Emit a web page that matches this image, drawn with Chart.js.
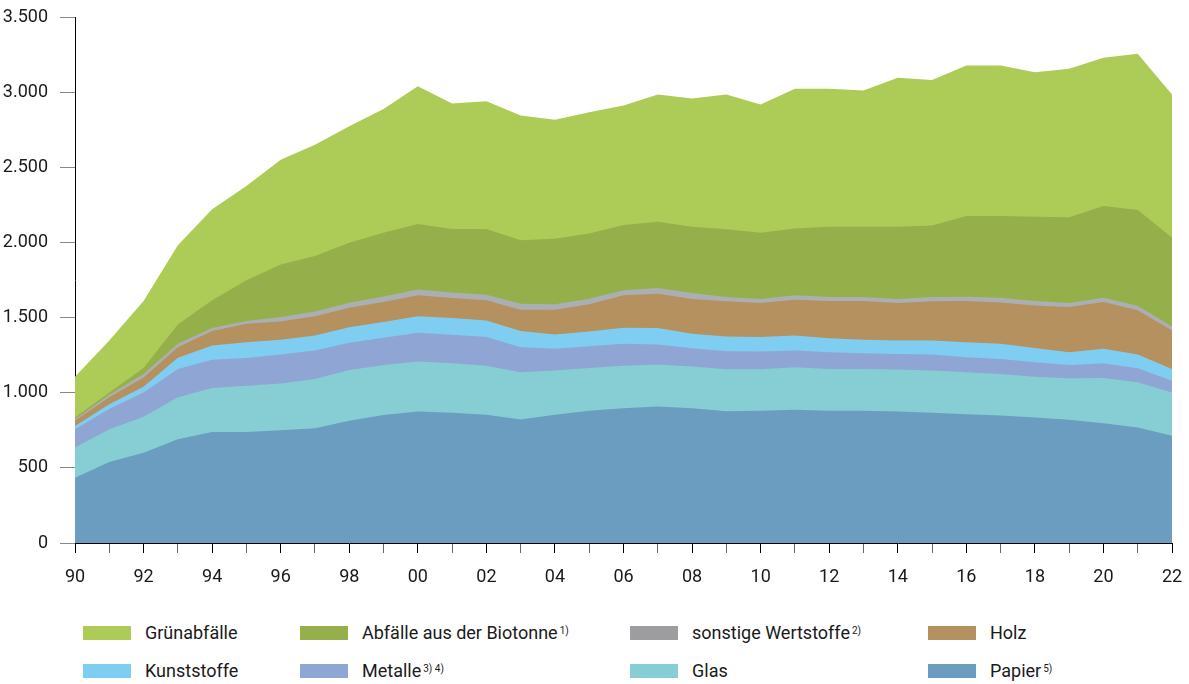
<!DOCTYPE html>
<html lang="de">
<head>
<meta charset="utf-8">
<title>Getrennt erfasste Wertstoffe</title>
<script src="https://cdn.jsdelivr.net/npm/chart.js@4.4.1/dist/chart.umd.min.js"></script>
<style>
  html, body { margin: 0; padding: 0; background: #fff; }
  #wrap { position: relative; width: 1189px; height: 684px; font-family: Roboto, 'Liberation Sans', sans-serif; color: #1a1a1a; }
  #chart { position: absolute; left: 0; top: 0; }
  .leg { position: absolute; display: flex; align-items: center; font-size: 18px; white-space: nowrap; }
  .leg .sw { width: 48px; height: 14px; margin-right: 14px; }
  .leg sup { font-size: 10px; margin-left: 2px; position: relative; top: -2px; }
</style>
</head>
<body>
<div id="wrap">
  <canvas id="chart" width="1189" height="600"></canvas>
</div>
<script>
// Jahre 1990 - 2022
const years = ['90','91','92','93','94','95','96','97','98','99',
               '00','01','02','03','04','05','06','07','08','09',
               '10','11','12','13','14','15','16','17','18','19',
               '20','21','22'];

// Werte in 1.000 t
const papier = [434,539,601,690,739,739,750,764,813,851,875,866,853,822,853,880,897,909,897,877,880,886,880,880,875,866,857,849,835,820,797,768,713];
const glas = [201,218,239,279,292,308,312,327,338,334,332,330,327,314,294,285,283,278,277,279,276,283,278,278,279,281,279,276,272,276,301,301,289];
const metalle = [122,134,162,189,189,184,192,190,181,180,192,189,190,167,145,145,145,134,122,120,118,112,111,105,104,107,100,100,96,89,98,93,78];
const kunststoffe = [22,33,38,74,94,105,98,100,104,105,109,112,111,107,95,97,107,109,96,98,96,100,94,89,89,93,100,100,95,84,96,92,78];
const holz = [34,45,62,71,96,123,122,127,130,133,140,133,134,142,165,181,216,229,231,234,227,238,247,258,250,261,274,276,283,301,311,294,256];
const sonstige = [11,18,23,22,20,18,29,33,33,38,38,36,37,40,36,38,33,38,41,29,26,29,27,27,26,29,29,31,29,27,29,31,27];
const biotonne = [11,15,40,129,185,271,350,368,399,423,436,423,437,423,436,434,435,441,440,450,441,445,467,467,481,476,537,544,561,570,611,637,592];
const gruen = [272,345,445,528,605,628,697,741,775,824,918,835,851,829,793,806,795,846,853,897,853,929,918,907,992,967,1002,1002,962,989,986,1040,951];

const yTicks = [0, 500, 1000, 1500, 2000, 2500, 3000, 3500];

// von unten nach oben gestapelt
const series = [
    { label: 'Papier', note: '5)', data: papier, color: '#6a9dbf' },
    { label: 'Glas', note: '', data: glas, color: '#86cdd4' },
    { label: 'Metalle', note: '3) 4)', data: metalle, color: '#8fa5d3' },
    { label: 'Kunststoffe', note: '', data: kunststoffe, color: '#80cdf2' },
    { label: 'Holz', note: '', data: holz, color: '#b4915f' },
    { label: 'sonstige Wertstoffe', note: '2)', data: sonstige, color: '#abaeb3', legendColor: '#9d9d9f' },
    { label: 'Abfälle aus der Biotonne', note: '1)', data: biotonne, color: '#95b04a' },
    { label: 'Grünabfälle', note: '', data: gruen, color: '#adcb57' }
];

Chart.defaults.font.family = "Roboto, 'Liberation Sans', sans-serif";
Chart.defaults.font.size = 18;
Chart.defaults.color = '#1a1a1a';

new Chart(document.getElementById('chart'), {
    type: 'line',
    data: {
        labels: years,
        datasets: series.map(s => ({
            label: s.label,
            data: s.data,
            backgroundColor: s.color,
            borderColor: s.color,
            borderWidth: 0,
            pointRadius: 0,
            tension: 0,
            fill: 'origin'
        }))
    },
    options: {
        responsive: false,
        animation: false,
        layout: { padding: { top: 17, right: 17, left: 0, bottom: 0 } },
        plugins: {
            legend: { display: false },
            tooltip: { enabled: false }
        },
        scales: {
            x: {
                type: 'category',
                offset: false,
                grid: {
                    drawOnChartArea: false,
                    tickLength: 10,
                    color: ctx => (ctx.index % 2 === 0 ? '#000' : '#666')
                },
                border: { color: '#000', width: 1 },
                ticks: {
                    autoSkip: false,
                    maxRotation: 0,
                    padding: 14,
                    callback: (v, i) => (i % 2 === 0 ? years[i] : '')
                },
                afterFit: s => {
                    s.height = 57;
                    s.paddingLeft = 0;
                    s.paddingRight = 0;
                }
            },
            y: {
                stacked: true,
                min: 0,
                max: 3500,
                grid: {
                    drawOnChartArea: false,
                    tickLength: 15,
                    color: '#888'
                },
                border: { color: '#000', width: 1 },
                afterBuildTicks: s => { s.ticks = yTicks.map(v => ({ value: v })); },
                ticks: {
                    padding: 12,
                    callback: v => v.toLocaleString('de-DE')
                },
                afterFit: s => {
                    s.width = 75;
                    s.paddingTop = 0;
                    s.paddingBottom = 0;
                }
            }
        }
    }
});

// Legende (4 Spalten, 2 Zeilen, Reihenfolge von oben nach unten)
const legendCols = [83, 300, 630, 928];
const legendRows = [622, 660];
const wrap = document.getElementById('wrap');
series.slice().reverse().forEach((s, i) => {
    const el = document.createElement('div');
    el.className = 'leg';
    el.style.left = legendCols[i % 4] + 'px';
    el.style.top = legendRows[Math.floor(i / 4)] + 'px';
    const sw = document.createElement('span');
    sw.className = 'sw';
    sw.style.background = s.legendColor || s.color;
    el.appendChild(sw);
    el.appendChild(document.createTextNode(s.label));
    if (s.note) {
        const sup = document.createElement('sup');
        sup.textContent = s.note;
        el.appendChild(sup);
    }
    wrap.appendChild(el);
});
</script>
</body>
</html>
